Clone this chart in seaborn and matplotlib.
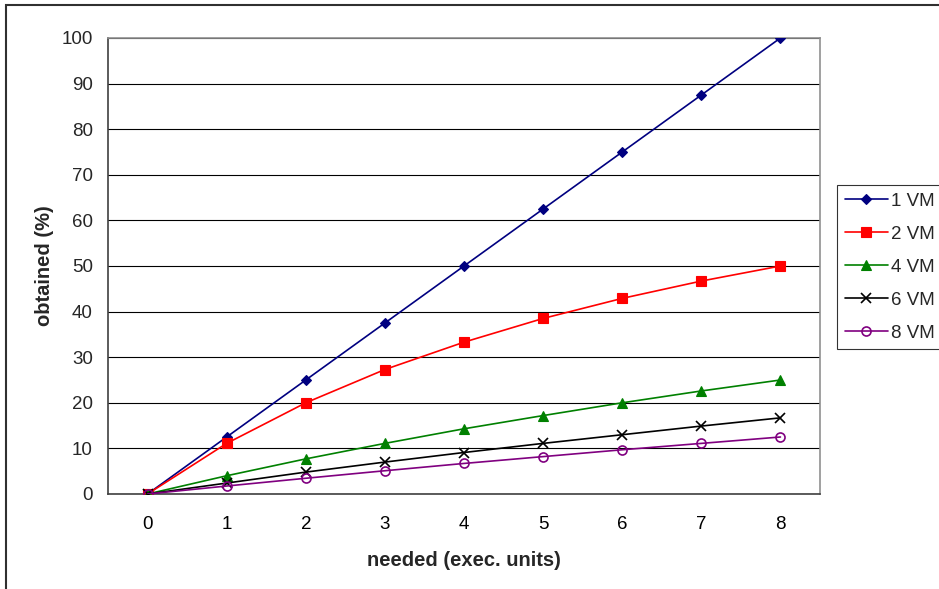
import numpy as np
import pandas as pd
import seaborn as sns
import matplotlib
matplotlib.use("Agg")
import matplotlib.pyplot as plt
from matplotlib.patches import Rectangle

needed = [0, 1, 2, 3, 4, 5, 6, 7, 8]
vm1 = [0, 12.5, 25.0, 37.5, 50.0, 62.5, 75.0, 87.5, 100.0]
vm2 = [0, 11.1, 20.0, 27.3, 33.3, 38.5, 42.9, 46.7, 50.0]
vm4 = [0, 4.0, 7.7, 11.1, 14.3, 17.2, 20.0, 22.6, 25.0]
vm6 = [0, 2.4, 4.8, 7.0, 9.1, 11.1, 13.0, 14.9, 16.7]
vm8 = [0, 1.75, 3.45, 5.1, 6.7, 8.2, 9.7, 11.1, 12.5]
series_names = ["1 VM", "2 VM", "4 VM", "6 VM", "8 VM"]
series_vals = [vm1, vm2, vm4, vm6, vm8]

rows = []
for name, vals in zip(series_names, series_vals):
    for x, y in zip(needed, vals):
        rows.append({"needed": x, "obtained": y, "series": name})
df = pd.DataFrame(rows)

sns.set_theme(style="white")
plt.rcParams['font.family'] = ['Liberation Sans', 'DejaVu Sans']

colors = {"1 VM": "#000080", "2 VM": "#ff0000", "4 VM": "#008000", "6 VM": "#000000", "8 VM": "#800080"}
markers = {"1 VM": "D", "2 VM": "s", "4 VM": "^", "6 VM": "x", "8 VM": "o"}
msizes = {"1 VM": 5.5, "2 VM": 6.5, "4 VM": 7.5, "6 VM": 7.5, "8 VM": 6.5}

fig = plt.figure(figsize=(9.39, 5.89), dpi=100)
ax = fig.add_axes([108/939, 1 - 494/589, (820-108)/939, (494-38)/589])

for name in series_names:
    sub = df[df["series"] == name]
    mfc = "none" if name == "8 VM" else colors[name]
    sns.lineplot(data=sub, x="needed", y="obtained", ax=ax, color=colors[name],
                 marker=markers[name], markersize=msizes[name], markerfacecolor=mfc,
                 markeredgecolor=colors[name], markeredgewidth=1.2 if name in ("6 VM", "8 VM") else 0.8,
                 linewidth=1.2, label=name, legend=False, zorder=3)

ax.set_xlim(-0.5, 8.5)
ax.set_ylim(0, 100)
ax.set_yticks(np.arange(0, 101, 10))
ax.set_xticks(needed)
ax.set_xticks(np.arange(-0.5, 8.6, 1), minor=True)
ax.tick_params(axis='x', which='major', length=0, labelsize=13.5, pad=16, colors='black')
ax.tick_params(axis='x', which='minor', length=5, width=1, color='#404040', direction='out')
ax.tick_params(axis='y', which='major', length=5, width=1, color='#404040', direction='out', labelsize=13.5, pad=6)
ax.yaxis.grid(True, color='black', linewidth=0.8)
ax.xaxis.grid(False)
ax.set_axisbelow(True)
for s in ['left', 'bottom']:
    ax.spines[s].set_color('#404040')
    ax.spines[s].set_linewidth(1.2)
for s in ['top', 'right']:
    ax.spines[s].set_color('#909090')
    ax.spines[s].set_linewidth(1.2)
ax.set_xlabel("needed (exec. units)", fontsize=14.5, fontweight='bold', labelpad=13)
ax.set_ylabel("obtained (%)", fontsize=14.5, fontweight='bold', labelpad=5)

handles, labels = ax.get_legend_handles_labels()
leg = fig.legend(handles, labels, loc='upper left', bbox_to_anchor=(837/939, 1 - 185/589),
                 frameon=True, fontsize=13.5, handlelength=2.3, handletextpad=0.2,
                 labelspacing=0.85, borderpad=0.4, fancybox=False, borderaxespad=0)
leg.get_frame().set_edgecolor('black')
leg.get_frame().set_linewidth(0.8)

fig.patches.append(Rectangle((6/939, -0.1), 1.2, 1 - 5/589 + 0.1, transform=fig.transFigure,
                             fill=False, edgecolor='#303030', linewidth=1.5))

fig.savefig("out.png", dpi=100)
